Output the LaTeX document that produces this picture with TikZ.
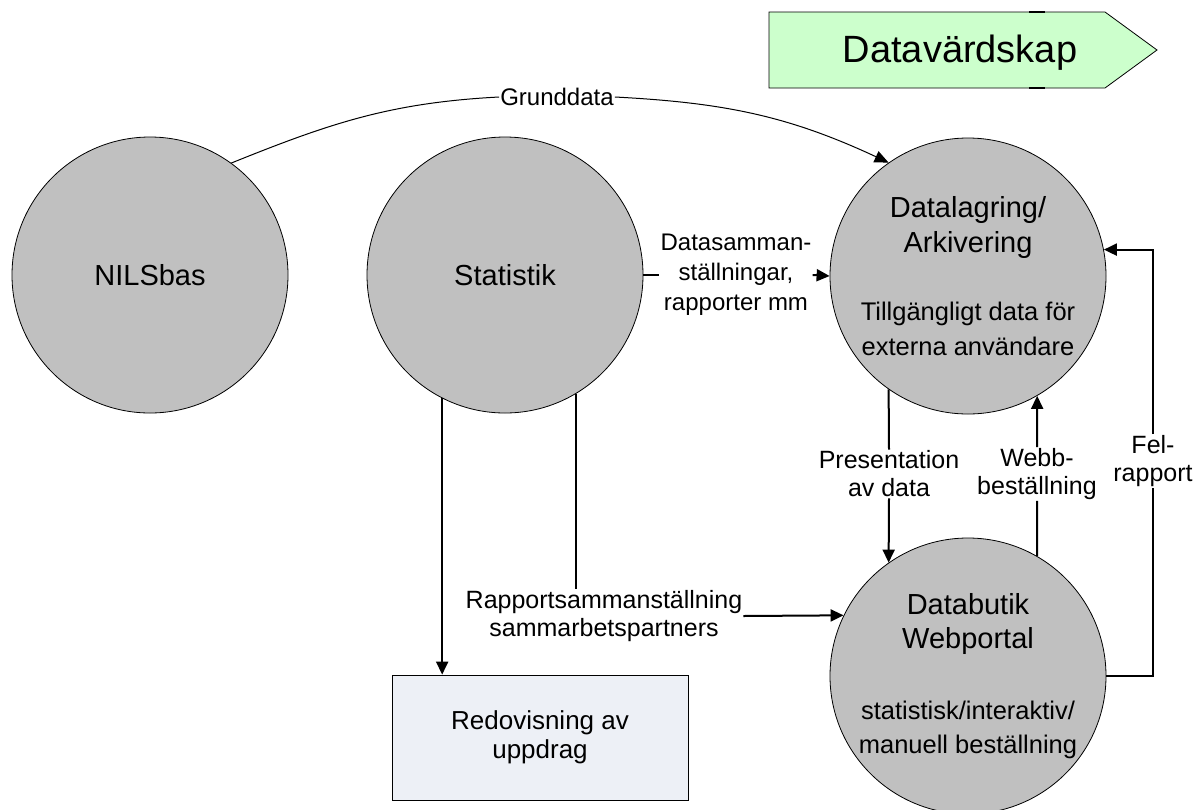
\documentclass[tikz,border=0pt]{standalone}
\usepackage{fontspec}
\setmainfont{Liberation Sans}
\usetikzlibrary{arrows.meta, positioning}
\definecolor{procgray}{RGB}{192,192,192}
\definecolor{redoblue}{RGB}{237,240,246}
\definecolor{tagreen}{RGB}{204,255,204}
\newcommand{\subtxt}{\fontsize{25.5}{33}\selectfont}
\tikzset{
  proc/.style={
    circle, draw=black, line width=0.8pt, fill=procgray,
    minimum size=276pt, inner sep=0pt,
    align=center, font=\fontsize{29}{35}\selectfont
  },
  redobox/.style={
    rectangle, draw=black, line width=0.8pt, fill=redoblue,
    minimum width=296pt, minimum height=125pt,
    align=center, font=\fontsize{26}{29}\selectfont
  },
  lbl/.style={
    align=center, inner sep=1pt, font=\fontsize{25}{28}\selectfont
  },
  flow/.style={line width=2pt},
  flowarr/.style={line width=2pt, -{Triangle[length=13pt,width=12pt]}},
  thinflow/.style={line width=1pt},
  thinarr/.style={line width=1pt, -{Triangle[length=14pt,width=12pt]}},
}

\begin{document}
\begin{tikzpicture}[x=1pt, y=1pt]
  \useasboundingbox (0,0) rectangle (1197,-809);

  % tag
  \draw[fill=tagreen, line width=0.8pt] (769,-12) -- (1105,-12) -- (1157,-50) -- (1105,-88) -- (769,-88) -- cycle;
  \draw[line width=2.5pt] (1029,-12) -- (1045,-12) (1029,-88) -- (1045,-88);
  \node[anchor=base, font=\fontsize{38}{42}\selectfont] (tag) at (960,-62) {Datavärdskap};

  % processes
  \node[proc] (nils) at (150,-275) {NILSbas};
  \node[proc] (stat) at (505,-275) {Statistik};
  \node[proc] (lagring) at (968,-276) {Datalagring/\\Arkivering\\[33pt]\subtxt Tillgängligt data för\\\subtxt externa användare};
  \node[proc, font=\fontsize{29}{34}\selectfont] (butik) at (968,-676) {Databutik\\Webportal\\[37pt]\subtxt statistisk/interaktiv/\\\subtxt manuell beställning};
  \node[redobox] (redo) at (540,-737.5) {Redovisning av\\uppdrag};

  % labels
  \node[lbl, font=\fontsize{24}{28}\selectfont] (grund) at (557,-97) {Grunddata};
  \node[lbl, font=\fontsize{24}{30}\selectfont] (dsam) at (736,-275) {Datasamman-\\ställningar,\\rapporter mm};
  \node[lbl] (pres) at (889,-474) {Presentation\\av data};
  \node[lbl] (webb) at (1037,-474) {Webb-\\beställning};
  \node[lbl] (fel) at (1153,-461) {Fel-\\rapport};
  \node[lbl] (rap) at (604,-616) {Rapportsammanställning\\sammarbetspartners};

  % connectors
  \draw[thinflow] (nils.54) to[out=22, in=183] (grund.west);
  \draw[thinarr] (grund.east) to[out=-3, in=155] (lagring.125);
  \draw[flow] (stat.east) -- (dsam.west);
  \draw[flowarr] (dsam.east) -- (lagring.west);
  \draw[flow] (lagring.-125) -- (pres.north);
  \draw[flowarr] (pres.south) -- (butik.125);
  \draw[flow] (butik.60) -- (webb.south);
  \draw[flowarr] (webb.north) -- (lagring.-60);
  \draw[flow] (butik.east) -| (fel.south);
  \draw[flowarr] (fel.north) |- (lagring.11);
  \draw[flowarr] (stat.-117) -- (stat.-117 |- redo.north);
  \draw[flow] (stat.-59) -- (stat.-59 |- rap.north);
  \draw[flowarr] (rap.east) -- (butik.154);
\end{tikzpicture}
\end{document}
